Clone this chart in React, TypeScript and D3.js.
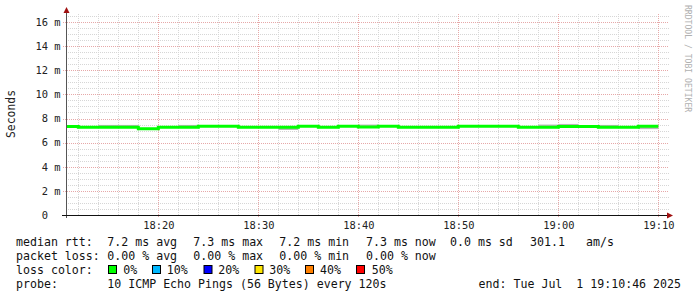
import React from "react";
import * as d3 from "d3";

const W = 697;
const H = 297;

// ---- data ----
const slotStarts = [
  "18:10", "18:12", "18:14", "18:16", "18:18", "18:20", "18:22", "18:24", "18:26", "18:28",
  "18:30", "18:32", "18:34", "18:36", "18:38", "18:40", "18:42", "18:44", "18:46", "18:48",
  "18:50", "18:52", "18:54", "18:56", "18:58", "19:00", "19:02", "19:04", "19:06", "19:08",
];
const medianMs = [
  7.33, 7.27, 7.27, 7.27, 7.16, 7.27, 7.27, 7.35, 7.35, 7.27,
  7.27, 7.27, 7.35, 7.27, 7.35, 7.29, 7.35, 7.27, 7.27, 7.27,
  7.35, 7.35, 7.35, 7.27, 7.27, 7.33, 7.33, 7.27, 7.27, 7.35,
];
const smokeLowMs = [
  7.3, 7.27, 7.27, 7.27, 7.16, 7.27, 7.27, 7.35, 7.35, 7.27,
  7.27, 7.05, 7.35, 7.27, 7.35, 7.29, 7.35, 7.27, 7.27, 7.27,
  7.35, 7.35, 7.35, 7.27, 7.27, 7.33, 7.33, 7.27, 7.27, 7.12,
];
const smokeHighMs = [
  7.42, 7.27, 7.47, 7.47, 7.16, 7.27, 7.47, 7.35, 7.35, 7.27,
  7.27, 7.27, 7.35, 7.27, 7.35, 7.5, 7.35, 7.27, 7.27, 7.27,
  7.35, 7.35, 7.35, 7.27, 7.5, 7.55, 7.33, 7.47, 7.27, 7.35,
];

const yMajorTicks = [0, 2, 4, 6, 8, 10, 12, 14, 16];
const yTickLabels = ["0  ", "2 m", "4 m", "6 m", "8 m", "10 m", "12 m", "14 m", "16 m"];
const xTickTimes = ["18:20", "18:30", "18:40", "18:50", "19:00", "19:10"];

const rttStats = ["7.2 ms avg", "7.3 ms max", "7.2 ms min", "7.3 ms now", "0.0 ms sd", "301.1", "am/s"];
const lossStats = ["0.00 % avg", "0.00 % max", "0.00 % min", "0.00 % now"];
const lossLabels = ["0%", "10%", "20%", "30%", "40%", "50%"];
const lossColors = ["#00ff00", "#00b8ff", "#0000ff", "#ffe600", "#ff8000", "#ff0000"];
const probeText = "10 ICMP Echo Pings (56 Bytes) every 120s";
const endText = "end: Tue Jul  1 19:10:46 2025";
const startTime = "2025-07-01 18:10:46";
const endTime = "2025-07-01 19:10:46";

// ---- layout ----
const PL = 66, PR = 666, PT = 15, PB = 215;
const parse = d3.timeParse("%Y-%m-%d %H:%M:%S");
const t = (hm: string) => parse(`2025-07-01 ${hm}:00`) as Date;

const MONO = "'DejaVu Sans Mono', monospace";
const PRE = { whiteSpace: "pre" as const };

export default function App() {
  const x = d3.scaleTime().domain([parse(startTime) as Date, parse(endTime) as Date]).range([PL, PR]);
  const y = d3.scaleLinear().domain([0, 200 / 12.06]).range([PB, PT]);

  const minorX = d3.timeMinute.every(2)!.range(t("18:12"), t("19:12"));
  const minorY = d3.range(0, 16.6, 0.5).filter((v) => v % 2 !== 0);

  const gridRight = 669;

  const slotEnd = (i: number) =>
    i + 1 < slotStarts.length ? t(slotStarts[i + 1]) : d3.timeMinute.offset(t(slotStarts[i]), 2);

  const linePts: [number, number][] = [];
  slotStarts.forEach((s, i) => {
    linePts.push([x(t(s)), y(medianMs[i])]);
  });
  linePts.push([x(slotEnd(slotStarts.length - 1)), y(medianMs[medianMs.length - 1])]);
  const line = d3.line().curve(d3.curveStepAfter)(linePts) || "";

  const rowY = [245.5, 259.5, 273.5, 287.5];
  const statX = [107.3, 193.3, 279.3, 366, 450, 530, 586];
  const boxX = [108, 152, 203.5, 254.5, 305, 356];
  const lblX = [123.3, 166.7, 218.3, 269.3, 320, 371.7];

  const T = (props: any) => <text xmlSpace="preserve" style={PRE} {...props} />;

  return (
    <div style={{ position: "fixed", left: 0, top: 0 }}>
      <svg width={W} height={H} style={{ display: "block", background: "#fff" }}>
        <defs>
          <clipPath id="plot">
            <rect x={PL} y={PT - 2} width={PR - PL} height={PB - PT + 2} />
          </clipPath>
        </defs>
        <rect x={0} y={0} width={W} height={H} fill="#fff" />

        {/* minor grid */}
        {minorY.map((v) => (
          <line key={"my" + v} x1={PL} x2={gridRight} y1={Math.round(y(v)) + 0.5} y2={Math.round(y(v)) + 0.5}
            stroke="#d6d6d6" strokeWidth={1} strokeDasharray="1,1" />
        ))}
        {minorX.filter((d) => d.getMinutes() % 10 !== 0).map((d) => (
          <line key={"mx" + +d} x1={Math.round(x(d)) + 0.5} x2={Math.round(x(d)) + 0.5} y1={PT - 1} y2={PB}
            stroke="#d6d6d6" strokeWidth={1} strokeDasharray="1,1" />
        ))}
        {/* major grid */}
        {yMajorTicks.filter((v) => v > 0).map((v) => (
          <line key={"My" + v} x1={PL - 3} x2={gridRight} y1={Math.round(y(v)) + 0.5} y2={Math.round(y(v)) + 0.5}
            stroke="#e6a8a8" strokeWidth={1} strokeDasharray="1,1" />
        ))}
        {xTickTimes.map((s) => (
          <line key={"Mx" + s} x1={Math.round(x(t(s))) + 0.5} x2={Math.round(x(t(s))) + 0.5} y1={PT - 1} y2={PB + 3}
            stroke="#e6a8a8" strokeWidth={1} strokeDasharray="1,1" />
        ))}

        {/* smoke + median */}
        <g clipPath="url(#plot)">
          {slotStarts.map((s, i) =>
            smokeHighMs[i] - smokeLowMs[i] > 0.001 ? (
              <rect key={"sm" + s} x={x(t(s))} width={x(slotEnd(i)) - x(t(s))}
                y={y(smokeHighMs[i])} height={y(smokeLowMs[i]) - y(smokeHighMs[i])} fill="#b8b8b8" />
            ) : null
          )}
          <path d={line} fill="none" stroke="#00ff00" strokeWidth={3} />
        </g>

        {/* axes */}
        <line x1={PL + 0.5} x2={PL + 0.5} y1={PB + 3} y2={11} stroke="#555" strokeWidth={1} />
        <path d={`M${PL - 2.5},${13} L${PL + 0.5},${7} L${PL + 3.5},${13} Z`} fill="#a01010" />
        <line x1={62} x2={668} y1={PB + 0.5} y2={PB + 0.5} stroke="#111" strokeWidth={1} />
        <path d={`M${667},${PB - 2.5} L${673},${PB + 0.5} L${667},${PB + 3.5} Z`} fill="#a01010" />

        {/* y labels */}
        {yMajorTicks.map((v, i) => (
          <T key={"yl" + v} x={60.5} y={y(v) + 3.8} textAnchor="end" fontFamily={MONO} fontSize={10.4}
            fill="#222">{yTickLabels[i]}</T>
        ))}
        {/* x labels */}
        {xTickTimes.map((s) => (
          <T key={"xl" + s} x={x(t(s)) + 0.5} y={228.8} textAnchor="middle" fontFamily={MONO} fontSize={10.4}
            fill="#222">{s}</T>
        ))}

        {/* y title */}
        <T transform="translate(15,114) rotate(-90)" textAnchor="middle" fontFamily={MONO} fontSize={11.4}
          fill="#222">Seconds</T>

        {/* watermark */}
        <T transform="translate(685,5) rotate(90)" fontFamily={MONO} fontSize={8.1} fill="#b0b0b0">
          RRDTOOL / TOBI OETIKER
        </T>

        {/* legend */}
        <g fontFamily={MONO} fontSize={11.6} fill="#111">
          <T x={16} y={rowY[0]}>median rtt:</T>
          {rttStats.map((s, i) => (
            <T key={"r" + i} x={statX[i]} y={rowY[0]}>{s}</T>
          ))}
          <T x={16} y={rowY[1]}>packet loss:</T>
          {lossStats.map((s, i) => (
            <T key={"l" + i} x={statX[i]} y={rowY[1]}>{s}</T>
          ))}
          <T x={16} y={rowY[2]}>loss color:</T>
          {lossLabels.map((s, i) => (
            <g key={"c" + i}>
              <rect x={boxX[i] + 0.5} y={265.5} width={8} height={8} fill={lossColors[i]} stroke="#000" strokeWidth={1} />
              <T x={lblX[i]} y={rowY[2]}>{s}</T>
            </g>
          ))}
          <T x={16} y={rowY[3]}>probe:</T>
          <T x={107.3} y={rowY[3]}>{probeText}</T>
          <T x={681} y={rowY[3]} textAnchor="end">{endText}</T>
        </g>
      </svg>
    </div>
  );
}
